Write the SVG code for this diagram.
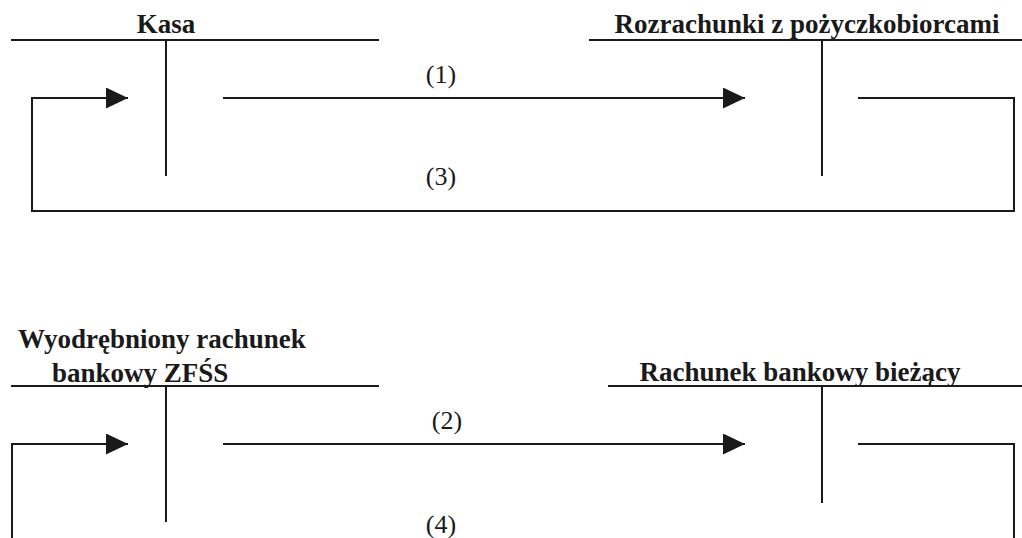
<svg xmlns="http://www.w3.org/2000/svg" width="1022" height="538" viewBox="0 0 1022 538">
<defs>
<style>
.ln{stroke:#1a1a1a;stroke-width:2;fill:none}
.title{font-family:"Liberation Serif","Times New Roman",serif;font-weight:bold;font-size:27px;fill:#1a1a1a}
.lbl{font-family:"Liberation Serif","Times New Roman",serif;font-size:26px;fill:#1a1a1a;text-anchor:middle}
</style>
<marker id="ah" viewBox="0 0 22 21" refX="22" refY="10.5" markerWidth="22" markerHeight="21" markerUnits="userSpaceOnUse" orient="auto">
<path d="M0,0 L22,10.5 L0,21 Z" fill="#1a1a1a"/>
</marker>
</defs>
<rect width="1022" height="538" fill="#fff"/>
<g id="kasa">
<line class="ln" x1="11" y1="40" x2="379" y2="40"/>
<line class="ln" x1="166" y1="40" x2="166" y2="176"/>
<text class="title" x="166" y="33" text-anchor="middle">Kasa</text>
</g>
<g id="rozrachunki">
<line class="ln" x1="589" y1="40" x2="1022" y2="40"/>
<line class="ln" x1="822" y1="40" x2="822" y2="176"/>
<text class="title" x="807" y="33" text-anchor="middle">Rozrachunki z pożyczkobiorcami</text>
</g>
<g id="zfss">
<line class="ln" x1="11" y1="386" x2="379" y2="386"/>
<line class="ln" x1="166" y1="386" x2="166" y2="522"/>
<text class="title" x="18" y="348">Wyodrębniony rachunek</text>
<text class="title" x="52" y="382">bankowy ZFŚS</text>
</g>
<g id="biezacy">
<line class="ln" x1="608" y1="386" x2="1022" y2="386"/>
<line class="ln" x1="822" y1="386" x2="822" y2="503"/>
<text class="title" x="800" y="381" text-anchor="middle">Rachunek bankowy bieżący</text>
</g>
<g id="connectors">
<line class="ln" x1="223" y1="98" x2="745" y2="98" marker-end="url(#ah)"/>
<polyline class="ln" points="858,98 1014,98 1014,211 32,211 32,98 128,98" marker-end="url(#ah)"/>
<line class="ln" x1="223" y1="444" x2="745" y2="444" marker-end="url(#ah)"/>
<polyline class="ln" points="858,444 1014,444 1014,540"/>
<polyline class="ln" points="12,540 12,444 128,444" marker-end="url(#ah)"/>
<text class="lbl" x="441" y="83">(1)</text>
<text class="lbl" x="441" y="185">(3)</text>
<text class="lbl" x="447" y="429">(2)</text>
<text class="lbl" x="441" y="533">(4)</text>
</g>
</svg>
